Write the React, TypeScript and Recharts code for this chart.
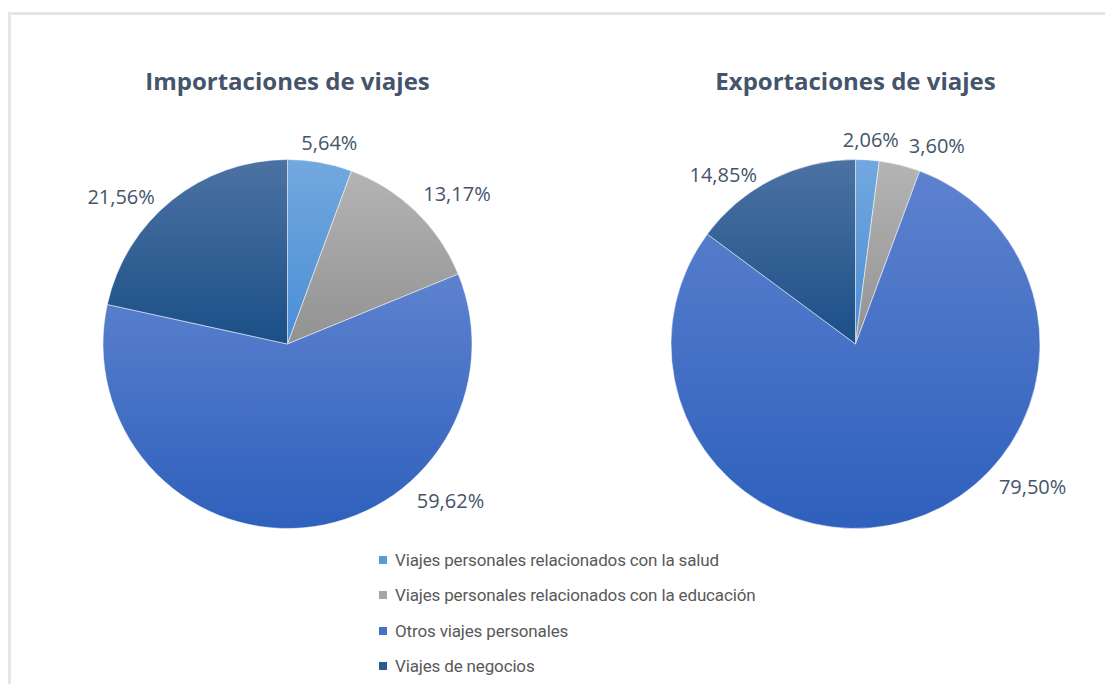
import React from 'react';
import { PieChart, Pie, Cell, Legend } from 'recharts';

const categories = [
  'Viajes personales relacionados con la salud',
  'Viajes personales relacionados con la educación',
  'Otros viajes personales',
  'Viajes de negocios',
];
const importValues = [5.64, 13.17, 59.62, 21.56];
const exportValues = [2.06, 3.6, 79.5, 14.85];
const chartTitles = ['Importaciones de viajes', 'Exportaciones de viajes'];

const baseColors = ['#5B9BD5', '#A5A5A5', '#4472C4', '#255E91'];
const gradTop = ['#72a8de', '#b4b4b4', '#5d82cf', '#4c72a3'];
const gradBottom = ['#4a8ed5', '#929292', '#2e60bc', '#1a4f87'];

const importData = categories.map((name, i) => ({ name, value: importValues[i] }));
const exportData = categories.map((name, i) => ({ name, value: exportValues[i] }));

const W = 1105;
const H = 684;
const R = 184.5;
const CY = 332;
const CX = [279.5, 847.5];

const LABEL_SIZE = 20;
const LABEL_FONT = `${LABEL_SIZE}px "Open Sans"`;
const TEXT_COLOR = '#44546A';
const RAD = Math.PI / 180;

let measureCtx: CanvasRenderingContext2D | null = null;
function measure(text: string, font: string): number {
  if (!measureCtx) {
    measureCtx = document.createElement('canvas').getContext('2d');
  }
  if (!measureCtx) return text.length * LABEL_SIZE * 0.57;
  measureCtx.font = font;
  return measureCtx.measureText(text).width;
}

const clamp = (v: number) => Math.max(-1, Math.min(1, v));
const formatPct = (v: number) => v.toFixed(2).replace('.', ',') + '%';

type Box = { x0: number; x1: number; y0: number; y1: number };

function makeLabel(placed: Box[]) {
  return (props: any) => {
    const { cx, cy, midAngle, outerRadius, percent, index, value } = props;
    if (index === 0) placed.length = 0;
    const text = formatPct(Number(value));
    const w = measure(text, LABEL_FONT) + 4;
    const h = 24;
    // large slices: label pulled toward the lower right, half way from the mid angle
    const ang = percent > 0.5 ? (midAngle - 12) / 2 : midAngle;
    const c = Math.cos(ang * RAD);
    const s = Math.sin(ang * RAD);
    const r = outerRadius + 8;
    const px = cx + r * c;
    const py = cy - r * s;
    let x: number;
    let y: number;
    if (c < -0.3) {
      // left side: text sits beside the anchor point
      x = px - w / 2 - 10;
      y = py + 2;
    } else {
      x = px + (clamp(1.5 * c) * w) / 2;
      y = py - (clamp(1.5 * s) * h) / 2;
    }
    for (const b of placed) {
      const ox = Math.min(x + w / 2, b.x1) - Math.max(x - w / 2, b.x0);
      const oy = Math.min(y + h / 2, b.y1) - Math.max(y - h / 2, b.y0);
      if (ox > 0 && oy > 0) {
        x += (c >= 0 ? 1 : -1) * (ox + 6);
      }
    }
    placed.push({ x0: x - w / 2, x1: x + w / 2, y0: y - h / 2, y1: y + h / 2 });
    return (
      <text
        x={x}
        y={y}
        textAnchor="middle"
        dominantBaseline="central"
        fill={TEXT_COLOR}
        style={{ fontFamily: '"Open Sans"', fontSize: LABEL_SIZE }}
      >
        {text}
      </text>
    );
  };
}

const importPlaced: Box[] = [];
const exportPlaced: Box[] = [];

const renderLegend = (props: any) => {
  const seen = new Set<string>();
  const payload = (props.payload || [])
    .filter((p: any) => {
      const v = String(p.value);
      if (seen.has(v) || categories.indexOf(v) < 0) return false;
      seen.add(v);
      return true;
    })
    .sort((a: any, b: any) => categories.indexOf(String(a.value)) - categories.indexOf(String(b.value)));
  return (
    <div
      style={{
        fontFamily: 'Roboto, sans-serif',
        fontSize: 17,
        letterSpacing: -0.15,
        color: '#595959',
      }}
    >
      {payload.map((p: any) => {
        const idx = categories.indexOf(String(p.value));
        return (
          <div
            key={String(p.value)}
            style={{ display: 'flex', alignItems: 'center', height: 35.5, whiteSpace: 'nowrap' }}
          >
            <span
              style={{
                display: 'inline-block',
                width: 8,
                height: 8,
                background: baseColors[idx],
                marginRight: 8,
                flex: 'none',
              }}
            />
            <span>{p.value}</span>
          </div>
        );
      })}
    </div>
  );
};

export default function App() {
  return (
    <div style={{ position: 'relative', top: 4, width: W, height: H - 8 }}>
      <div
        style={{
          position: 'absolute',
          left: 0,
          top: 0,
          width: W,
          height: H,
          borderTop: '3px solid #e6e6e6',
          borderLeft: '3px solid #e6e6e6',
          boxSizing: 'border-box',
        }}
      />
      {chartTitles.map((t, i) => (
        <div
          key={t}
          style={{
            position: 'absolute',
            left: CX[i] - 250,
            width: 500,
            top: 54,
            textAlign: 'center',
            fontFamily: '"Open Sans"',
            fontWeight: 700,
            fontSize: 24,
            lineHeight: '30px',
            color: TEXT_COLOR,
          }}
        >
          {t}
        </div>
      ))}
      <div style={{ position: 'absolute', left: 0, top: 0 }}>
        <PieChart width={W} height={H} margin={{ top: 0, right: 0, bottom: 0, left: 0 }}>
          <defs>
            {categories.map((c, i) => (
              <linearGradient key={c} id={`grad-${i}`} x1="0" y1="0" x2="0" y2="1">
                <stop offset="0%" stopColor={gradTop[i]} />
                <stop offset="100%" stopColor={gradBottom[i]} />
              </linearGradient>
            ))}
          </defs>
          <Pie
            data={importData}
            dataKey="value"
            nameKey="name"
            cx={CX[0]}
            cy={CY}
            outerRadius={R}
            startAngle={90}
            endAngle={-270}
            stroke="#ffffff"
            strokeWidth={0.5}
            label={makeLabel(importPlaced)}
            labelLine={false}
            isAnimationActive={false}
          >
            {importData.map((d, i) => (
              <Cell key={d.name} fill={`url(#grad-${i})`} />
            ))}
          </Pie>
          <Pie
            data={exportData}
            dataKey="value"
            nameKey="name"
            cx={CX[1]}
            cy={CY}
            outerRadius={R}
            startAngle={90}
            endAngle={-270}
            stroke="#ffffff"
            strokeWidth={0.5}
            label={makeLabel(exportPlaced)}
            labelLine={false}
            legendType="none"
            isAnimationActive={false}
          >
            {exportData.map((d, i) => (
              <Cell key={d.name} fill={`url(#grad-${i})`} />
            ))}
          </Pie>
          <Legend
            layout="vertical"
            align="center"
            verticalAlign="bottom"
            itemSorter={null as any}
            content={renderLegend}
            wrapperStyle={{ position: 'absolute', left: 371, top: 530, bottom: 'auto', width: 420 }}
          />
        </PieChart>
      </div>
    </div>
  );
}
